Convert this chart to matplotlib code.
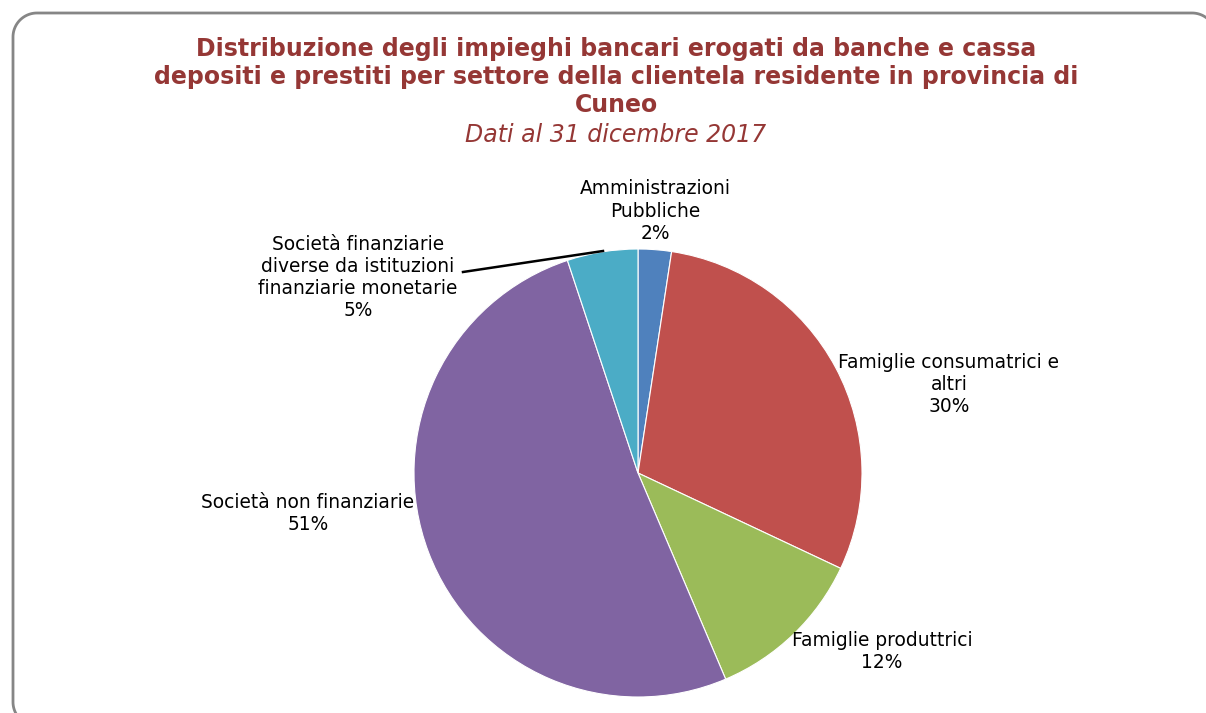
import matplotlib
matplotlib.use("Agg")
import numpy as np
import matplotlib.pyplot as plt

categories = ["Amministrazioni\nPubbliche", "Famiglie consumatrici e\naltri",
              "Famiglie produttrici", "Società non finanziarie",
              "Società finanziarie\ndiverse da istituzioni\nfinanziarie monetarie"]
values = [2.4, 29.6, 11.6, 51.3, 5.1]
pct_labels = ["2%", "30%", "12%", "51%", "5%"]
colors = ["#4F81BD", "#C0504D", "#9BBB59", "#8064A2", "#4BACC6"]

W, H = 1206, 713
fig = plt.figure(figsize=(W / 100, H / 100), dpi=100)

def fx(px):
    return px / W

def fy(py):
    return 1 - py / H

# background axes in pixel coordinates (y downward) for the rounded frame
bg = fig.add_axes([0, 0, 1, 1])
bg.set_xlim(0, W)
bg.set_ylim(H, 0)
bg.axis("off")

def rounded_rect(x0, y0, x1, y1, rad, n=30):
    xs, ys = [], []
    corners = [(x1 - rad, y1 - rad, 0, 90), (x0 + rad, y1 - rad, 90, 180),
               (x0 + rad, y0 + rad, 180, 270), (x1 - rad, y0 + rad, 270, 360)]
    for cxc, cyc, a0, a1 in corners:
        t = np.radians(np.linspace(a0, a1, n))
        xs.extend(cxc + rad * np.cos(t))
        ys.extend(cyc + rad * np.sin(t))
    xs.append(xs[0])
    ys.append(ys[0])
    return xs, ys

fxs, fys = rounded_rect(13, 13, 1216, 726, 24)
bg.plot(fxs, fys, color="#868686", linewidth=2, clip_on=False,
        solid_joinstyle="round", solid_capstyle="round")

title_color = "#953735"
fig.text(fx(616), fy(77), "Distribuzione degli impieghi bancari erogati da banche e cassa\n"
         "depositi e prestiti per settore della clientela residente in provincia di\nCuneo",
         ha="center", va="center", fontsize=17, fontweight="bold", color=title_color,
         linespacing=1.2)
fig.text(fx(616), fy(135), "Dati al 31 dicembre 2017", ha="center", va="center",
         fontsize=17, style="italic", color=title_color)

# pie
cx, cy, r = 638, 473, 224
ax = fig.add_axes([fx(cx - r), fy(cy + r), 2 * r / W, 2 * r / H])
ax.pie(values, colors=colors, startangle=90, counterclock=False, radius=1,
       wedgeprops=dict(edgecolor="white", linewidth=0.8))
ax.set_xlim(-1, 1)
ax.set_ylim(-1, 1)
ax.set_aspect("equal")
ax.axis("off")

label_pos = [(655, 211), (949, 384), (882, 652), (308, 513), (358, 278)]
for cat, pct, (px, py) in zip(categories, pct_labels, label_pos):
    fig.text(fx(px), fy(py), cat + "\n" + pct, ha="center", va="center",
             fontsize=13.4, color="black", linespacing=1.2)

# leader line for Società finanziarie
fig.add_artist(plt.Line2D([fx(463), fx(603)], [fy(272), fy(251)],
                          transform=fig.transFigure, color="black", linewidth=1.8))

fig.savefig("out.png", dpi=100)
